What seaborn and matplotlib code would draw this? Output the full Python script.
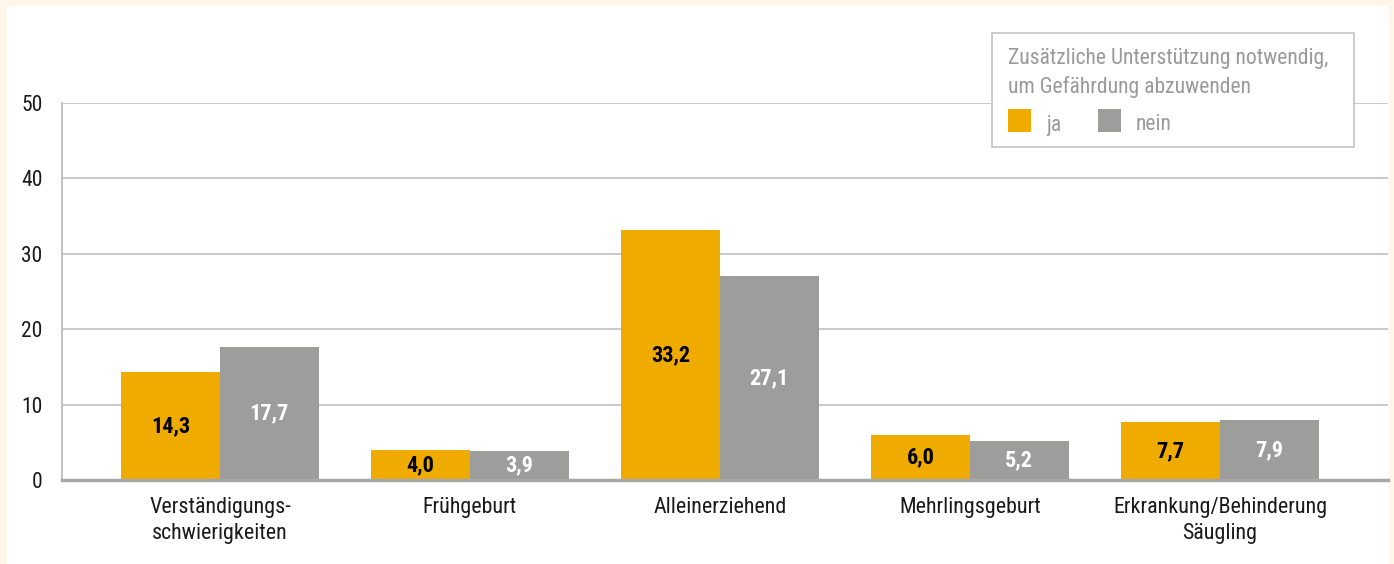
import matplotlib
matplotlib.use("Agg")
import matplotlib.pyplot as plt
import matplotlib.patches as mpatches
from matplotlib import font_manager as fm
import seaborn as sns
import pandas as pd

categories = ["Verständigungs-\nschwierigkeiten", "Frühgeburt", "Alleinerziehend",
              "Mehrlingsgeburt", "Erkrankung/Behinderung\nSäugling"]
ja_values = [14.3, 4.0, 33.2, 6.0, 7.7]
nein_values = [17.7, 3.9, 27.1, 5.2, 7.9]
series_names = ["ja", "nein"]
y_ticks = [0, 10, 20, 30, 40, 50]
legend_title = "Zusätzliche Unterstützung notwendig,\num Gefährdung abzuwenden"

colors = {"ja": "#F0AB00", "nein": "#9D9D9C"}
label_colors = {"ja": "black", "nein": "white"}

df = pd.DataFrame({
    "Kategorie": categories * 2,
    "Wert": ja_values + nein_values,
    "Serie": ["ja"] * len(categories) + ["nein"] * len(categories),
})

sns.set_theme(style="white")
names = {f.name for f in fm.fontManager.ttflist}
choice = next((n for n in ["Roboto Condensed", "Barlow Semi Condensed", "Asap Condensed"] if n in names), None)
FONT = [choice, "DejaVu Sans"] if choice else ["DejaVu Sans"]
plt.rcParams["font.family"] = FONT
plt.rcParams["font.stretch"] = "condensed"

W, H = 1394, 564
fig = plt.figure(figsize=(W / 100, H / 100), dpi=100, facecolor="#FEF6E9")
fig.patches.append(mpatches.Rectangle((7 / W, 0), (1389 - 7) / W, (H - 6) / H,
                                      transform=fig.transFigure, facecolor="white",
                                      edgecolor="none", zorder=-5))

ax_left, ax_right = 62, 1388
ax_top, ax_bottom = 103, 480
ax = fig.add_axes([ax_left / W, 1 - ax_bottom / H, (ax_right - ax_left) / W, (ax_bottom - ax_top) / H])
ax.set_facecolor("none")

sns.barplot(data=df, x="Kategorie", y="Wert", hue="Serie", hue_order=series_names,
            palette=colors, width=0.79, dodge=True, gap=0, saturation=1,
            linewidth=0, ax=ax, zorder=3, legend=False)

for container, name in zip(ax.containers, series_names):
    labels = [f"{v:.1f}".replace(".", ",") for v in container.datavalues]
    ax.bar_label(container, labels=labels, label_type="center", color=label_colors[name],
                 fontsize=16, fontweight="bold", zorder=4)

ax.set_ylim(0, 50)
ax.set_yticks(y_ticks)
ax.set_yticklabels([str(t) for t in y_ticks], fontsize=15.5, color="#1a1a1a")
ax.set_xlim(-0.632, 4.672)
ax.tick_params(axis="x", labelsize=15.8, colors="#1a1a1a", length=0, pad=12)
ax.tick_params(axis="y", length=0, pad=14)
for lbl in ax.get_xticklabels():
    lbl.set_linespacing(1.35)
ax.set_xlabel("")
ax.set_ylabel("")
ax.yaxis.grid(True, color="#C6C6C6", linewidth=1.3, zorder=1)
ax.set_axisbelow(True)
for s in ["top", "right"]:
    ax.spines[s].set_visible(False)
ax.spines["left"].set_color("#BDBDBD")
ax.spines["left"].set_linewidth(1.3)
ax.spines["bottom"].set_color("#A8A8A8")
ax.spines["bottom"].set_linewidth(2.5)
ax.spines["bottom"].set_zorder(5)

# legend box
lx0, ly0, lx1, ly1 = 992, 33, 1354, 147
fig.patches.append(mpatches.Rectangle((lx0 / W, 1 - ly1 / H), (lx1 - lx0) / W, (ly1 - ly0) / H,
                                      transform=fig.transFigure, facecolor="white",
                                      edgecolor="#C8C8C8", linewidth=1.3, zorder=10))
fig.text(1008 / W, 1 - 73 / H, legend_title, fontsize=15.6, color="#9A9A9A", va="center",
         ha="left", linespacing=1.45, zorder=11)
for i, name in enumerate(series_names):
    x = 1008 + i * 90
    fig.text((x + 38) / W, 1 - 125 / H, name, fontsize=15.6, color="#9A9A9A",
             va="center", ha="left", zorder=11)
    fig.patches.append(mpatches.Rectangle((x / W, 1 - 132 / H), 23 / W, 23 / H,
                                          transform=fig.transFigure, facecolor=colors[name],
                                          edgecolor="none", zorder=11))

fig.savefig("out.png", dpi=100, facecolor=fig.get_facecolor())
